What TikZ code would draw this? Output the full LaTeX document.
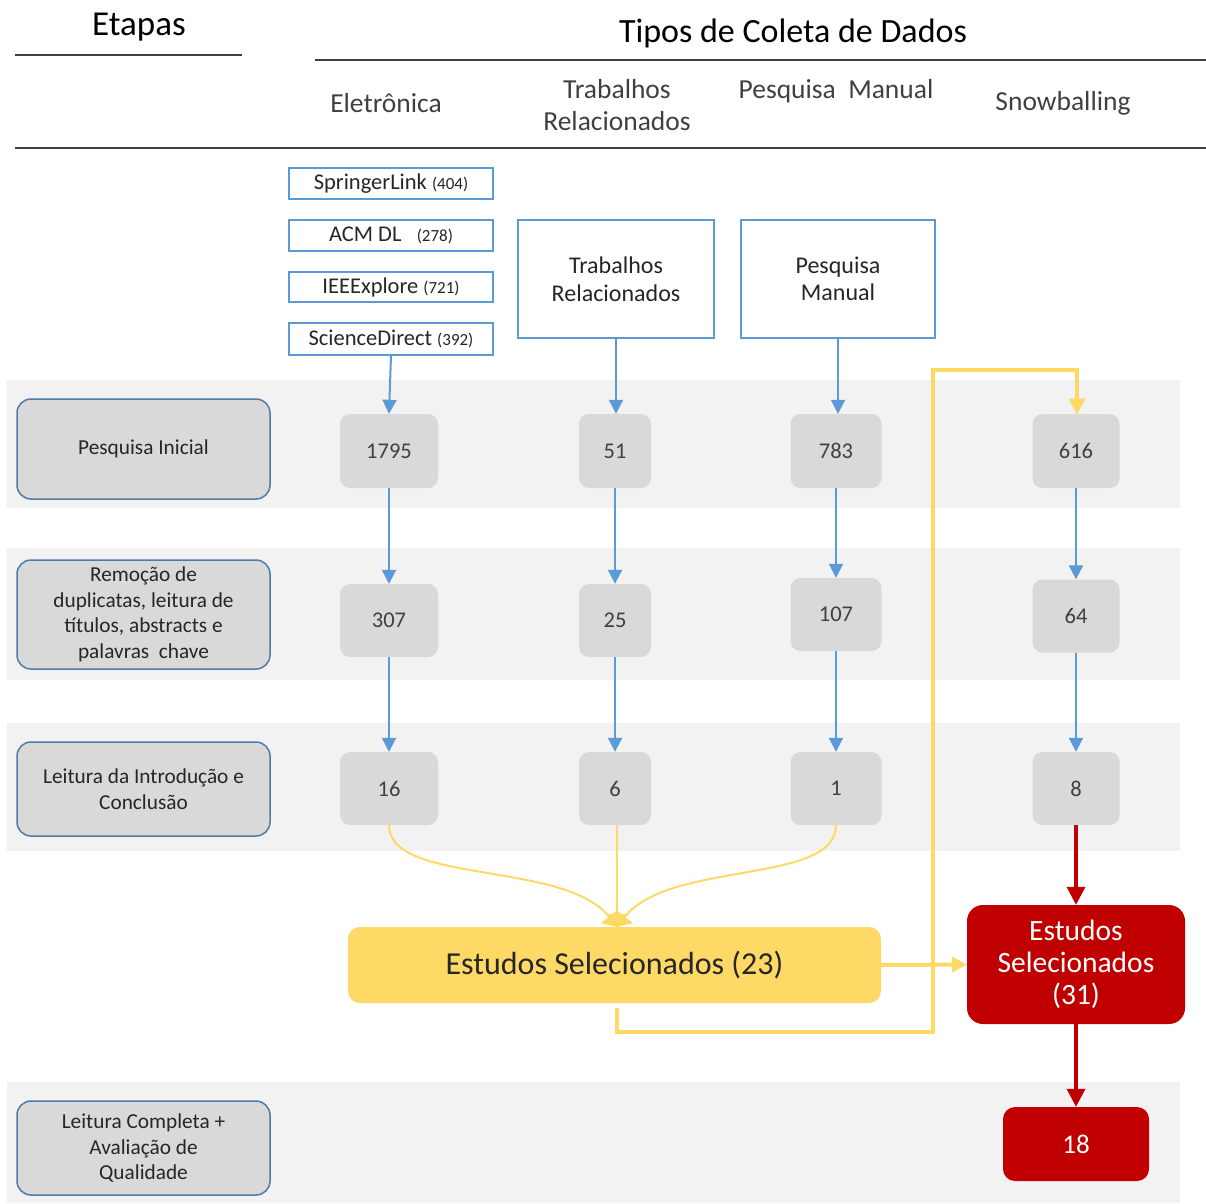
\documentclass[tikz,border=0pt]{standalone}
\usepackage{fontspec}
\setmainfont{Carlito}
\usetikzlibrary{arrows.meta,positioning}
\definecolor{bl}{HTML}{5B9BD5}
\definecolor{band}{HTML}{F2F2F2}
\definecolor{gbox}{HTML}{D9D9D9}
\definecolor{sborder}{HTML}{4F7BA8}
\definecolor{yel}{HTML}{FFD966}
\definecolor{rd}{HTML}{C00000}
\definecolor{dk}{HTML}{404040}
\definecolor{tx}{HTML}{262626}
\newcommand\fsnum{\fontsize{22.5}{26}\selectfont}
\newcommand\fsstage{\fontsize{21.3}{25.5}\selectfont}
\newcommand\fsdb{\fontsize{22.5}{24}\selectfont}
\newcommand\fsdbn{\fontsize{17}{18}\selectfont}
\newcommand\fshead{\fontsize{27.5}{32}\selectfont}
\newcommand\fstitle{\fontsize{34}{38}\selectfont}
\tikzset{
  dbbox/.style={draw=bl,line width=1.5pt,fill=white,minimum width=204pt,text=tx,inner sep=0pt,font=\fsdb},
  srcbox/.style={draw=bl,line width=1.5pt,fill=white,minimum height=118pt,text=tx,align=center,inner sep=0pt,font=\fontsize{24}{27.5}\selectfont},
  stagebox/.style={draw=sborder,line width=1.5pt,fill=gbox,rounded corners=14pt,minimum width=253pt,text=tx,align=center,inner sep=0pt,font=\fsstage},
  numbox/.style={fill=gbox,rounded corners=10pt,minimum height=73pt,text=dk,inner sep=0pt,font=\fsnum},
  hdr/.style={text=dk,align=center,font=\fshead},
  hline/.style={draw=dk,line width=2pt},
  barrow/.style={draw=bl,line width=2pt,-{Triangle[length=14pt,width=14pt]}},
  ycurve/.style={draw=yel,line width=2pt,-{Triangle[length=13pt,width=20pt]}},
  yfb/.style={draw=yel,line width=4pt},
  rarrow/.style={draw=rd,line width=3.5pt,-{Triangle[length=18pt,width=18pt]}}
}
\begin{document}
\begin{tikzpicture}[x=1pt,y=-1pt]
\useasboundingbox (0,0) rectangle (1206,1203);
\fill[white] (0,0) rectangle (1206,1203);
% bands
\fill[band] (7,380) rectangle (1180,508);
\fill[band] (7,548) rectangle (1180,680);
\fill[band] (7,723) rectangle (1180,851);
\fill[band] (7,1082) rectangle (1180,1203);
% header
\node[text=black,font=\fontsize{35}{38}\selectfont] (etapas) at (139,27) {Etapas};
\node[text=black,font=\fstitle] (tipos) at (793,33) {Tipos de Coleta de Dados};
\draw[hline] (15,55) -- (242,55);
\draw[hline] (315,60) -- (1206,60);
\draw[hline] (15,148) -- (1206,148);
\node[hdr] (h1) at (386,103) {Eletrônica};
\node[hdr] (h2) at (617,105) {Trabalhos\\Relacionados};
\node[hdr] (h3) at (836,91) {Pesquisa\ \ Manual};
\node[hdr] (h4) at (1063,103) {Snowballing};
% databases
\node[dbbox,minimum height=31pt] (db1) at (391,183.5) {SpringerLink {\fsdbn(404)}};
\node[dbbox,minimum height=31pt] (db2) at (391,235.5) {ACM DL\ \ \ {\fsdbn(278)}};
\node[dbbox,minimum height=30pt] (db3) at (391,287) {IEEExplore {\fsdbn(721)}};
\node[dbbox,minimum height=32pt] (db4) at (391,339) {ScienceDirect {\fsdbn(392)}};
\node[srcbox,minimum width=196pt] (trab) at (616,279) {Trabalhos\\Relacionados};
\node[srcbox,minimum width=194pt] (pesq) at (838,279) {Pesquisa\\Manual};
% stages
\node[stagebox,minimum height=100pt] (s1) at (143.5,449) {Pesquisa Inicial};
\node[stagebox,minimum height=109pt] (s2) at (143.5,614.5) {Remoção de\\duplicatas, leitura de\\títulos, abstracts e\\palavras\ \ chave};
\node[stagebox,minimum height=94pt] (s3) at (143.5,789) {Leitura da Introdução e\\Conclusão};
\node[stagebox,minimum height=94pt] (s4) at (143.5,1148) {Leitura Completa +\\Avaliação de\\Qualidade};
% numbers
\node[numbox,minimum width=98pt,minimum height=74pt] (n11) at (389,451) {1795};
\node[numbox,minimum width=98pt] (n12) at (389,620.5) {307};
\node[numbox,minimum width=98pt] (n13) at (389,788.5) {16};
\node[numbox,minimum width=72pt,minimum height=74pt] (n21) at (615,451) {51};
\node[numbox,minimum width=72pt] (n22) at (615,620.5) {25};
\node[numbox,minimum width=72pt] (n23) at (615,788.5) {6};
\node[numbox,minimum width=91pt,minimum height=74pt] (n31) at (836,451) {783};
\node[numbox,minimum width=91pt] (n32) at (836,614.5) {107};
\node[numbox,minimum width=91pt] (n33) at (836,788.5) {1};
\node[numbox,minimum width=87pt,minimum height=74pt] (n41) at (1076,451) {616};
\node[numbox,minimum width=87pt] (n42) at (1076,616) {64};
\node[numbox,minimum width=87pt] (n43) at (1076,788.5) {8};
% selected
\node[fill=yel,rounded corners=12pt,minimum width=533pt,minimum height=76pt,inner sep=0pt,text=tx,font=\fontsize{32}{34}\selectfont] (sel23) at (614.5,965) {Estudos Selecionados (23)};
\node[fill=rd,rounded corners=16pt,minimum width=218pt,minimum height=119pt,inner sep=0pt,text=white,align=center,font=\fontsize{29.5}{32}\selectfont] (sel31) at (1076,964.5) {Estudos\\Selecionados\\(31)};
\node[fill=rd,rounded corners=12pt,minimum width=146pt,minimum height=74pt,inner sep=0pt,text=white,font=\fontsize{27}{30}\selectfont] (r18) at (1076,1144) {18};
% blue arrows
\draw[barrow] (db4.south) -- (n11.north);
\draw[barrow] (trab.south) -- (trab.south |- n21.north);
\draw[barrow] (pesq.south) -- (pesq.south |- n31.north);
\draw[barrow] (n11) -- (n12);
\draw[barrow] (n12) -- (n13);
\draw[barrow] (n21) -- (n22);
\draw[barrow] (n22) -- (n23);
\draw[barrow] (n31.south) -- (n32.north);
\draw[barrow] (n32.south) -- (n33.north);
\draw[barrow] (n41.south) -- (n42.north);
\draw[barrow] (n42.south) -- (n43.north);
% yellow curves
\coordinate (ytip) at (617,927);
\draw[ycurve] (n13.south) .. controls (389,885) and (565,860) .. (ytip);
\draw[ycurve] (n23.south -| ytip) -- (ytip);
\draw[ycurve] (n33.south) .. controls (836,885) and (669,860) .. (ytip);
% yellow feedback
\coordinate (fb1) at (933,1032);
\coordinate (fb2) at (933,370);
\draw[yfb] ([xshift=2.5pt,yshift=-5pt]sel23.south) |- (fb1) -- (fb2) -| ([xshift=1pt,yshift=14pt]n41.north);
\draw[draw=yel,fill=yel] ([xshift=1pt]n41.north) -- ++(-8,-15) -- ++(16,0) -- cycle;
\draw[draw=yel,line width=4pt,-{Triangle[length=15pt,width=15pt]}] (sel23.east) -- (sel31.west);
% red arrows
\draw[rarrow] (n43.south) -- (sel31.north);
\draw[rarrow] (sel31.south) -- (r18.north);
\end{tikzpicture}
\end{document}
